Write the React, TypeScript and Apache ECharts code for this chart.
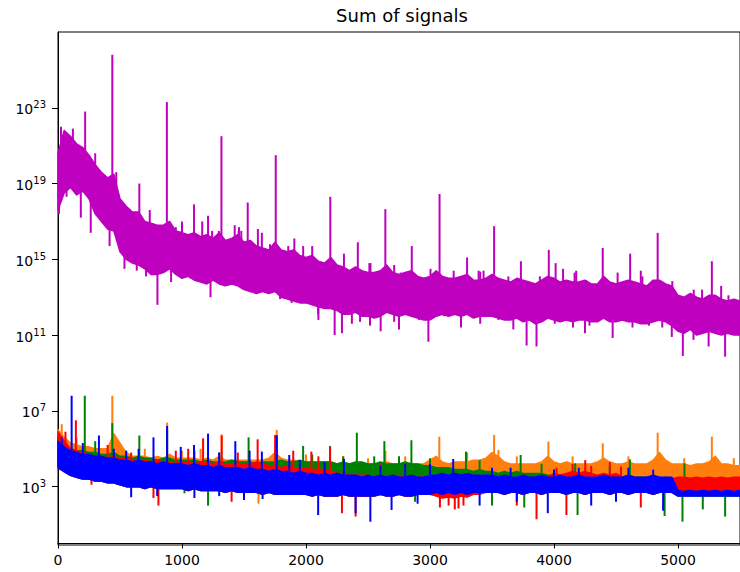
import { useEffect, useRef } from "react";
import * as echarts from "echarts";

// ---- data (values are log10 of the signal) ----
// envelope readings every 50 samples, x = 0, 50, ..., 5500
const STEP = 50;
const xGrid: number[] = Array.from({ length: 111 }, (_, i) => i * STEP);

const X_TICKS = [0, 1000, 2000, 3000, 4000, 5000];
const Y_TICK_EXPONENTS = [3, 7, 11, 15, 19, 23];

const magentaHi = [
  20.6, 21.8, 21.5, 21.1, 20.9, 20.5, 20.0, 19.6, 19.3, 19.5,
  18.2, 17.8, 17.5, 17.5, 17.0, 16.9, 16.8, 16.8, 17.0, 16.5,
  16.4, 16.3, 16.4, 16.2, 16.3, 16.1, 16.4, 16.0, 16.1, 16.3,
  15.9, 16.0, 15.7, 15.6, 15.5, 15.9, 15.5, 15.4, 15.5, 15.2,
  15.1, 15.2, 14.9, 14.8, 15.1, 14.7, 14.6, 14.4, 14.6, 14.4,
  14.3, 14.3, 14.4, 14.7, 14.3, 14.2, 14.3, 14.4, 14.1, 14.0,
  14.1, 14.4, 14.1, 14.0, 14.0, 14.1, 14.2, 13.9, 13.9, 14.0,
  14.2, 14.0, 13.9, 13.8, 14.0, 13.9, 13.8, 13.7, 13.9, 14.1,
  14.0, 13.8, 13.9, 13.8, 13.8, 13.9, 13.7, 13.7, 14.1, 13.8,
  13.7, 13.8, 13.9, 13.8, 13.7, 13.6, 13.9, 13.9, 13.7, 13.6,
  13.1, 13.0, 13.2, 13.0, 12.9, 13.1, 13.1, 12.9, 12.8, 12.9,
  12.8,
];
const magentaLo = [
  17.6, 18.5, 18.8, 18.4, 18.6, 18.2, 17.4, 17.0, 16.6, 16.5,
  15.4, 15.0, 14.8, 14.7, 14.5, 14.2, 14.2, 14.3, 14.5, 14.2,
  14.0, 14.1, 13.9, 13.8, 13.7, 13.9, 13.7, 13.6, 13.7, 13.6,
  13.4, 13.3, 13.2, 13.3, 13.2, 13.3, 13.0, 12.9, 12.8, 12.7,
  12.7, 12.6, 12.5, 12.4, 12.4, 12.3, 12.1, 12.1, 12.2, 12.0,
  12.0, 11.9, 12.0, 12.2, 12.1, 12.0, 12.1, 12.0, 11.9, 11.8,
  11.8, 12.0, 12.1, 12.0, 12.1, 12.0, 12.1, 11.9, 12.0, 12.0,
  12.0, 11.9, 11.8, 11.8, 11.9, 11.7, 11.8, 11.6, 11.7, 11.9,
  11.8, 11.7, 11.8, 11.7, 11.8, 11.8, 11.7, 11.7, 11.9, 11.7,
  11.7, 11.8, 11.7, 11.7, 11.6, 11.6, 11.7, 11.8, 11.7, 11.5,
  11.2, 11.1, 11.3, 11.0, 11.1, 11.2, 11.1, 11.0, 11.1, 11.0,
  11.0,
];
// [sample index, log10 value] of the isolated peaks and dips
const magentaSpikes: [number, number][] = [
  [24, 22.0], [58, 21.2], [101, 21.0], [120, 21.9], [144, 20.6], [157, 20.4],
  [219, 22.8], [256, 19.8], [300, 20.6], [328, 19.2], [376, 18.4], [438, 25.8],
  [470, 19.6], [531, 17.5], [555, 17.5], [603, 17.4], [656, 19.0], [729, 16.9],
  [740, 17.6], [750, 16.9], [878, 23.3], [950, 16.7], [998, 16.5], [1000, 17.0],
  [1097, 17.9], [1163, 17.0], [1210, 17.3], [1243, 16.5], [1297, 16.5], [1318, 21.5],
  [1425, 16.8], [1457, 16.5], [1460, 16.7], [1478, 16.5], [1530, 18.0], [1612, 16.6],
  [1644, 16.4], [1710, 15.8], [1756, 20.5], [1857, 15.7], [1906, 16.1], [1977, 15.7],
  [2050, 15.7], [2098, 14.9], [2196, 18.3], [2306, 15.3], [2418, 15.9], [2511, 14.8],
  [2520, 14.8], [2640, 17.65], [2711, 14.7], [2764, 14.3], [2853, 15.7], [3004, 14.5],
  [3077, 18.45], [3191, 14.4], [3299, 15.1], [3392, 14.4], [3405, 14.35], [3432, 14.4],
  [3517, 16.75], [3632, 14.1], [3733, 14.9], [3886, 14.1], [3958, 15.5], [4013, 14.8],
  [4073, 14.5], [4166, 14.3], [4179, 14.4], [4259, 13.9], [4393, 15.6], [4513, 14.3],
  [4614, 15.3], [4700, 14.4], [4713, 14.1], [4836, 16.4], [4954, 13.85], [5127, 13.4],
  [5194, 13.4], [5273, 14.9], [5348, 13.6], [5407, 13.1],
  [8, 17.4], [69, 18.3], [184, 17.2], [264, 16.4], [416, 15.7], [536, 14.5],
  [635, 14.4], [710, 14.1], [802, 12.6], [912, 13.8], [1064, 14.0], [1230, 13.0],
  [1403, 14.0], [1528, 14.2], [1550, 13.3], [1791, 12.9], [1884, 12.7], [1950, 12.8],
  [2098, 12.1], [2100, 11.8], [2231, 11.0], [2290, 11.1], [2370, 11.6], [2436, 11.7],
  [2516, 11.5], [2602, 11.2], [2711, 11.7], [2750, 11.3], [2911, 11.8], [2987, 10.65],
  [3111, 12.0], [3245, 12.3], [3250, 11.4], [3352, 12.1], [3405, 11.6], [3552, 11.8],
  [3672, 11.3], [3779, 10.45], [3859, 10.4], [4006, 11.6], [4153, 11.4], [4250, 11.1],
  [4286, 11.5], [4473, 10.85], [4633, 11.4], [4766, 11.5], [4873, 11.4], [4950, 10.9],
  [5039, 9.9], [5125, 10.75], [5247, 10.4], [5380, 9.86],
];

const orangeHi = [
  6.0, 5.6, 5.3, 5.2, 5.1, 5.1, 5.0, 5.0, 5.0, 5.8,
  5.3, 4.8, 4.6, 4.6, 4.6, 4.5, 4.6, 4.5, 4.7, 4.5,
  4.5, 4.5, 4.5, 4.4, 4.5, 4.4, 4.6, 4.4, 4.4, 4.4,
  4.4, 4.4, 4.4, 4.4, 4.5, 4.8, 4.5, 4.4, 4.4, 4.3,
  4.3, 4.3, 4.3, 4.3, 4.3, 4.2, 4.2, 4.2, 4.2, 4.2,
  4.2, 4.2, 4.2, 4.3, 4.2, 4.2, 4.2, 4.2, 4.2, 4.2,
  4.4, 4.6, 4.3, 4.2, 4.3, 4.3, 4.3, 4.4, 4.4, 4.5,
  4.8, 4.6, 4.3, 4.2, 4.2, 4.2, 4.2, 4.2, 4.3, 4.6,
  4.3, 4.2, 4.3, 4.2, 4.2, 4.2, 4.2, 4.3, 4.5, 4.3,
  4.2, 4.2, 4.3, 4.2, 4.2, 4.2, 4.4, 4.8, 4.4, 4.2,
  4.2, 4.2, 4.1, 4.2, 4.2, 4.3, 4.6, 4.2, 4.2, 4.1,
  4.1,
];
const orangeLo = [
  4.3, 4.0, 3.9, 3.8, 3.7, 3.7, 3.6, 3.6, 3.5, 3.6,
  3.5, 3.4, 3.4, 3.3, 3.3, 3.3, 3.2, 3.3, 3.3, 3.2,
  3.2, 3.2, 3.1, 3.2, 3.1, 3.1, 3.1, 3.0, 3.1, 3.0,
  3.0, 3.0, 3.0, 3.0, 3.0, 3.0, 3.0, 3.0, 3.0, 3.0,
  3.0, 3.0, 3.0, 3.0, 3.0, 3.0, 3.0, 3.0, 3.0, 3.0,
  3.2, 3.2, 3.2, 3.2, 3.2, 3.2, 3.2, 3.2, 3.2, 3.2,
  3.2, 3.2, 3.2, 3.2, 3.2, 3.2, 3.2, 3.2, 3.2, 3.2,
  3.3, 3.3, 3.3, 3.3, 3.3, 3.3, 3.3, 3.3, 3.3, 3.3,
  3.3, 3.3, 3.3, 3.3, 3.3, 3.3, 3.3, 3.3, 3.3, 3.3,
  3.3, 3.3, 3.3, 3.3, 3.3, 3.3, 3.3, 3.3, 3.3, 3.3,
  3.4, 3.4, 3.4, 3.4, 3.4, 3.4, 3.4, 3.4, 3.4, 3.4,
  3.4,
];
const orangeSpikes: [number, number][] = [
  [30, 6.3], [150, 5.6], [438, 7.8], [700, 5.0], [880, 6.38], [1000, 4.9],
  [1150, 5.0], [1320, 5.76], [1764, 6.0], [2000, 4.7], [2300, 4.6], [2500, 4.5],
  [2640, 4.9], [2800, 4.6], [3075, 5.64], [3300, 4.8], [3517, 5.73], [3552, 4.94],
  [3700, 4.6], [3955, 5.38], [4150, 4.6], [4393, 5.29], [4600, 4.6], [4836, 5.85],
  [5050, 4.5], [5273, 5.64], [5450, 4.5],
  [1617, 2.1], [3640, 3.1],
];

const greenHi = [
  5.6, 5.2, 5.0, 4.9, 4.9, 4.8, 4.8, 4.7, 4.7, 4.8,
  4.6, 4.6, 4.5, 4.6, 4.5, 4.5, 4.4, 4.5, 4.5, 4.4,
  4.4, 4.4, 4.4, 4.3, 4.4, 4.3, 4.3, 4.3, 4.4, 4.3,
  4.3, 4.3, 4.2, 4.3, 4.3, 4.3, 4.4, 4.3, 4.3, 4.4,
  4.3, 4.3, 4.3, 4.3, 4.3, 4.2, 4.3, 4.2, 4.3, 4.3,
  4.2, 4.2, 4.3, 4.2, 4.2, 4.2, 4.3, 4.2, 4.2, 4.1,
  4.1, 4.0, 4.0, 4.0, 3.9, 3.9, 3.9, 3.8, 3.9, 3.8,
  3.8, 3.7, 3.8, 3.7, 3.8, 3.7, 3.7, 3.7, 3.7, 3.6,
  3.6, 3.6, 3.6, 3.6, 3.6, 3.5, 3.6, 3.5, 3.6, 3.5,
  3.5, 3.5, 3.5, 3.5, 3.5, 3.5, 3.5, 3.4, 3.5, 3.4,
  3.4, 3.4, 3.4, 3.4, 3.4, 3.4, 3.4, 3.4, 3.4, 3.4,
  3.4,
];
const greenLo = [
  4.0, 3.8, 3.6, 3.5, 3.4, 3.4, 3.3, 3.3, 3.2, 3.2,
  3.1, 3.0, 3.0, 3.0, 2.9, 3.0, 2.9, 2.9, 2.9, 2.9,
  2.9, 2.8, 2.9, 2.8, 2.8, 2.8, 2.8, 2.7, 2.8, 2.7,
  2.7, 2.7, 2.7, 2.6, 2.7, 2.6, 2.6, 2.6, 2.6, 2.6,
  2.6, 2.5, 2.6, 2.5, 2.5, 2.5, 2.6, 2.5, 2.5, 2.5,
  2.5, 2.5, 2.6, 2.5, 2.5, 2.6, 2.5, 2.5, 2.6, 2.6,
  2.6, 2.7, 2.6, 2.7, 2.6, 2.7, 2.6, 2.7, 2.7, 2.7,
  2.7, 2.7, 2.6, 2.7, 2.7, 2.6, 2.7, 2.7, 2.6, 2.7,
  2.7, 2.7, 2.6, 2.7, 2.7, 2.6, 2.7, 2.7, 2.7, 2.6,
  2.7, 2.7, 2.6, 2.7, 2.7, 2.7, 2.6, 2.7, 2.7, 2.7,
  2.5, 2.5, 2.5, 2.5, 2.5, 2.5, 2.5, 2.5, 2.5, 2.5,
  2.5,
];
const greenSpikes: [number, number][] = [
  [216, 7.8], [300, 5.4], [438, 6.35], [656, 5.7], [880, 6.0], [1100, 4.9],
  [1300, 4.8], [1537, 5.6], [1764, 5.7], [1977, 5.15], [2050, 4.7], [2194, 5.15],
  [2300, 4.6], [2410, 5.85], [2550, 4.6], [2632, 5.4], [2750, 4.6], [2850, 5.45],
  [3000, 4.5], [3290, 4.85], [3400, 4.4], [3731, 4.67], [3900, 4.2], [4171, 4.23],
  [4450, 4.1], [4612, 4.44], [5052, 4.23],
  [1020, 2.65], [1210, 2.0], [2880, 2.2], [3500, 2.0], [3760, 1.9], [4190, 1.5],
  [4892, 1.45], [5036, 1.15], [5200, 1.8], [5380, 1.42],
];

const redHi = [
  5.9, 5.4, 5.0, 4.9, 4.8, 4.7, 4.6, 4.6, 4.5, 4.6,
  4.5, 4.5, 4.4, 4.4, 4.4, 4.3, 4.4, 4.3, 4.3, 4.2,
  4.3, 4.3, 4.2, 4.3, 4.3, 4.2, 4.3, 4.2, 4.2, 4.2,
  4.2, 4.2, 4.3, 4.2, 4.1, 4.1, 4.0, 4.1, 4.0, 4.0,
  4.0, 3.9, 3.9, 3.9, 3.8, 3.7, 3.7, 3.6, 3.6, 3.6,
  3.6, 3.5, 3.6, 3.5, 3.5, 3.6, 3.5, 3.5, 3.5, 3.5,
  3.5, 3.4, 3.5, 3.4, 3.4, 3.4, 3.5, 3.4, 3.4, 3.4,
  3.4, 3.4, 3.5, 3.4, 3.4, 3.5, 3.4, 3.4, 3.4, 3.5,
  3.7, 3.6, 3.7, 3.8, 3.7, 3.8, 3.7, 3.6, 3.7, 3.6,
  3.7, 3.5, 3.6, 3.5, 3.4, 3.5, 3.4, 3.5, 3.4, 3.4,
  3.5, 3.5, 3.45, 3.5, 3.45, 3.5, 3.45, 3.5, 3.45, 3.5,
  3.5,
];
const redLo = [
  4.0, 3.8, 3.6, 3.5, 3.4, 3.4, 3.3, 3.3, 3.2, 3.2,
  3.1, 3.0, 3.0, 3.0, 2.9, 3.0, 2.9, 2.9, 2.9, 2.9,
  2.9, 2.8, 2.9, 2.8, 2.8, 2.8, 2.8, 2.7, 2.8, 2.7,
  2.7, 2.7, 2.7, 2.6, 2.7, 2.6, 2.6, 2.6, 2.6, 2.6,
  2.6, 2.5, 2.6, 2.5, 2.5, 2.5, 2.6, 2.5, 2.5, 2.5,
  2.5, 2.5, 2.6, 2.5, 2.5, 2.6, 2.5, 2.5, 2.6, 2.6,
  2.6, 2.5, 2.4, 2.45, 2.4, 2.5, 2.45, 2.6, 2.6, 2.7,
  2.7, 2.7, 2.6, 2.7, 2.7, 2.6, 2.7, 2.7, 2.6, 2.7,
  2.7, 2.7, 2.6, 2.7, 2.7, 2.6, 2.7, 2.7, 2.7, 2.6,
  2.7, 2.7, 2.6, 2.7, 2.7, 2.7, 2.6, 2.7, 2.7, 2.7,
  2.65, 2.65, 2.65, 2.65, 2.65, 2.65, 2.65, 2.65, 2.65, 2.65,
  2.65,
];
const redSpikes: [number, number][] = [
  [60, 5.9], [144, 6.5], [400, 5.2], [590, 4.8], [950, 4.9], [1050, 5.0],
  [1170, 5.55], [1320, 5.7], [1450, 4.8], [1610, 5.5], [1751, 5.73], [1897, 4.9],
  [2043, 4.85], [2100, 4.6], [2194, 5.1], [2600, 4.2], [4020, 4.0], [4150, 4.2],
  [4252, 4.4], [4300, 4.1], [4450, 4.3], [4540, 4.06],
  [270, 3.1], [770, 2.4], [810, 2.0], [1400, 2.2], [2290, 1.6], [2400, 1.42],
  [3080, 1.9], [3150, 2.0], [3200, 1.8], [3230, 1.85], [3270, 2.0], [3700, 2.0],
  [3859, 1.28], [4100, 1.5], [4700, 1.9],
];

const blueHi = [
  5.4, 5.1, 4.9, 4.8, 4.7, 4.7, 4.6, 4.6, 4.5, 4.5,
  4.4, 4.4, 4.3, 4.4, 4.3, 4.3, 4.2, 4.3, 4.2, 4.2,
  4.2, 4.1, 4.2, 4.1, 4.1, 4.0, 4.1, 4.0, 4.0, 4.0,
  3.9, 4.0, 3.9, 3.9, 3.8, 3.9, 3.8, 3.8, 3.7, 3.8,
  3.7, 3.7, 3.6, 3.7, 3.6, 3.7, 3.6, 3.6, 3.6, 3.5,
  3.6, 3.5, 3.6, 3.5, 3.6, 3.5, 3.5, 3.6, 3.5, 3.5,
  3.6, 3.6, 3.7, 3.6, 3.7, 3.6, 3.7, 3.6, 3.6, 3.6,
  3.6, 3.5, 3.6, 3.5, 3.5, 3.6, 3.5, 3.5, 3.6, 3.5,
  3.5, 3.6, 3.5, 3.5, 3.6, 3.5, 3.5, 3.5, 3.6, 3.5,
  3.5, 3.5, 3.6, 3.5, 3.5, 3.5, 3.6, 3.5, 3.5, 3.5,
  2.8, 2.75, 2.8, 2.75, 2.8, 2.75, 2.8, 2.75, 2.8, 2.75,
  2.8,
];
const blueLo = [
  4.0, 3.8, 3.6, 3.5, 3.4, 3.4, 3.3, 3.3, 3.2, 3.2,
  3.1, 3.0, 3.0, 3.0, 2.9, 3.0, 2.9, 2.9, 2.9, 2.9,
  2.9, 2.8, 2.9, 2.8, 2.8, 2.8, 2.8, 2.7, 2.8, 2.7,
  2.7, 2.7, 2.7, 2.6, 2.7, 2.6, 2.6, 2.6, 2.6, 2.6,
  2.6, 2.5, 2.6, 2.5, 2.5, 2.5, 2.6, 2.5, 2.5, 2.5,
  2.5, 2.5, 2.6, 2.5, 2.5, 2.6, 2.5, 2.5, 2.6, 2.6,
  2.6, 2.7, 2.6, 2.7, 2.6, 2.7, 2.6, 2.7, 2.7, 2.7,
  2.7, 2.7, 2.6, 2.7, 2.7, 2.6, 2.7, 2.7, 2.6, 2.7,
  2.7, 2.7, 2.6, 2.7, 2.7, 2.6, 2.7, 2.7, 2.7, 2.6,
  2.7, 2.7, 2.6, 2.7, 2.7, 2.7, 2.6, 2.7, 2.7, 2.7,
  2.5, 2.5, 2.5, 2.5, 2.5, 2.5, 2.5, 2.5, 2.5, 2.5,
  2.5,
];
const blueSpikes: [number, number][] = [
  [30, 5.6], [110, 7.8], [200, 5.3], [330, 5.7], [450, 5.0], [550, 4.9],
  [650, 5.0], [770, 5.6], [880, 6.2], [990, 5.1], [1097, 5.2], [1210, 5.8],
  [1300, 4.8], [1430, 5.4], [1545, 4.9], [1644, 4.85], [1764, 5.7], [1865, 4.67],
  [1950, 4.4], [2150, 4.3], [2306, 4.46], [2600, 4.1], [2800, 4.2], [3000, 4.2],
  [3187, 4.46], [3500, 4.0], [3650, 4.0], [4000, 3.9], [4200, 4.0], [4600, 4.0],
  [4800, 3.9],
  [590, 2.44], [800, 2.5], [1100, 2.4], [1300, 2.5], [1500, 2.3], [1650, 2.35],
  [2098, 1.5], [2400, 1.6], [2519, 1.15], [2690, 1.77], [2900, 2.1], [3400, 2.0],
  [3700, 2.2], [3950, 1.6], [4300, 2.0], [4500, 2.2], [4880, 1.73],
];

const SIGNALS = [
  { name: "m", color: "#bf00bf", hi: magentaHi, lo: magentaLo, spikes: magentaSpikes },
  { name: "orange", color: "#ff7f0e", hi: orangeHi, lo: orangeLo, spikes: orangeSpikes },
  { name: "g", color: "#008000", hi: greenHi, lo: greenLo, spikes: greenSpikes },
  { name: "r", color: "#ff0000", hi: redHi, lo: redLo, spikes: redSpikes },
  { name: "b", color: "#0000ff", hi: blueHi, lo: blueLo, spikes: blueSpikes },
];

const FONT = "DejaVu Sans";

function buildSeries() {
  const out: any[] = [];
  SIGNALS.forEach((s) => {
    // band: one polygon between the upper and lower envelope readings
    out.push({
      type: "custom",
      name: s.name + "-band",
      silent: true,
      data: xGrid.map((x, i) => [x, s.lo[i], s.hi[i]]),
      encode: { x: 0, y: [1, 2] },
      renderItem: (params: any, api: any) => {
        if (params.dataIndexInside !== 0) return null;
        const n = params.dataInsideLength;
        const top: number[][] = [];
        const bottom: number[][] = [];
        for (let j = 0; j < n; j++) {
          top.push(api.coord([api.value(0, j), api.value(2, j)]));
          bottom.push(api.coord([api.value(0, j), api.value(1, j)]));
        }
        return {
          type: "polygon",
          shape: { points: top.concat(bottom.reverse()) },
          style: { fill: s.color, stroke: s.color, lineWidth: 1.5, lineJoin: "round" },
        };
      },
    });
    // isolated spikes / dips
    out.push({
      type: "custom",
      name: s.name + "-spikes",
      silent: true,
      data: s.spikes.map(([x, v]) => {
        const k = Math.min(xGrid.length - 1, Math.round(x / STEP));
        return [x, (s.hi[k] + s.lo[k]) / 2, v];
      }),
      encode: { x: 0, y: [1, 2] },
      renderItem: (_p: any, api: any) => {
        const a = api.coord([api.value(0), api.value(1)]);
        const b = api.coord([api.value(0), api.value(2)]);
        return {
          type: "line",
          shape: { x1: a[0], y1: a[1], x2: b[0], y2: b[1] },
          style: { stroke: s.color, lineWidth: 2 },
        };
      },
    });
  });
  return out;
}

export default function App() {
  const ref = useRef<HTMLDivElement>(null);
  useEffect(() => {
    const chart = echarts.init(ref.current!, null, { renderer: "svg" });
    chart.setOption({
      animation: false,
      backgroundColor: "#ffffff",
      graphic: [
        {
          type: "text",
          x: 402,
          y: 15,
          style: {
            text: "Sum of signals",
            fontSize: 18,
            fontFamily: FONT,
            fill: "#000",
            align: "center",
            verticalAlign: "middle",
          },
        },
      ],
      grid: {
        left: 58,
        top: 32,
        right: -5,
        bottom: 27,
        show: true,
        borderColor: "#000",
        borderWidth: 1,
        backgroundColor: "transparent",
      },
      xAxis: {
        type: "value",
        min: 0,
        max: 5500,
        interval: 1000,
        axisLine: { show: true, lineStyle: { color: "#000", width: 1 } },
        axisTick: { show: true, length: 5, lineStyle: { color: "#000" }, customValues: X_TICKS },
        axisLabel: {
          customValues: X_TICKS,
          formatter: (v: number) => String(v),
          fontSize: 14,
          fontFamily: FONT,
          color: "#000",
          margin: 8,
        },
        splitLine: { show: false },
      },
      yAxis: {
        type: "value",
        min: -0.08,
        max: 27.0,
        axisLine: { show: true, lineStyle: { color: "#000", width: 1 } },
        axisTick: { show: true, length: 6, lineStyle: { color: "#000" }, customValues: Y_TICK_EXPONENTS },
        axisLabel: {
          customValues: Y_TICK_EXPONENTS,
          margin: 12,
          formatter: (v: number) => `{b|10}{s|${v}}`,
          rich: {
            b: { fontSize: 14, fontFamily: FONT, color: "#000", lineHeight: 16, padding: [3, 0, 0, 0], verticalAlign: "middle" },
            s: { fontSize: 10, fontFamily: FONT, color: "#000", lineHeight: 10, padding: [0, 0, 6, 0], verticalAlign: "middle" },
          },
        },
        splitLine: { show: false },
      },
      series: buildSeries(),
    });
    return () => chart.dispose();
  }, []);
  return (
    <div
      ref={ref}
      style={{ position: "fixed", left: 0, top: 0, width: 740, height: 572 }}
    />
  );
}
